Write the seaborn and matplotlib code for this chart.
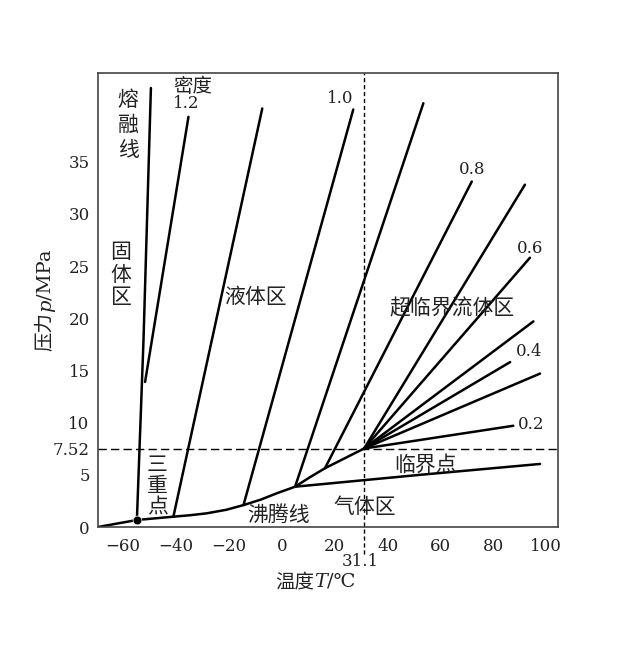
import numpy as np
import pandas as pd
import matplotlib
matplotlib.use("Agg")
import matplotlib.pyplot as plt
import seaborn as sns

sns.set_theme(style="white")
FAM = ["DejaVu Serif", "Noto Sans CJK SC", "DejaVu Sans"]
plt.rcParams["font.family"] = FAM
plt.rcParams["axes.unicode_minus"] = True

# ---- data (temperature in degC, pressure in MPa) ----
crit_T, crit_p = 31.1, 7.52
triple_T, triple_p = -54.8, 0.67

boil_T = [-69.5, -54.8, -41.0, -35.0, -28.4, -21.0, -14.5, -8.0, -1.9, 5.0, 10.5, 16.3, 23.5, 31.1]
boil_p = [0.0, 0.67, 0.99, 1.12, 1.31, 1.65, 2.1, 2.62, 3.23, 3.86, 4.75, 5.63, 6.55, 7.52]

melt_T = [-54.8, -52.3, -49.5]
melt_p = [0.67, 17.9, 42.06]

iso_names = ["d12", "c", "d10", "e", "d08", "g1", "d06", "g3", "d04", "g5", "d02", "h"]
iso_T = [
    [-51.7, -35.3],
    [-41.0, -7.4],
    [-14.5, 27.0],
    [5.0, 53.5],
    [16.3, 71.8],
    [31.1, 91.9],
    [31.1, 93.8],
    [31.1, 95.1],
    [31.1, 86.3],
    [31.1, 97.6],
    [31.1, 87.5],
    [5.0, 52.3, 97.6],
]
iso_p = [
    [13.9, 39.3],
    [0.99, 40.1],
    [2.1, 40.0],
    [3.86, 40.6],
    [5.63, 33.1],
    [7.52, 32.8],
    [7.52, 25.8],
    [7.52, 19.7],
    [7.52, 15.8],
    [7.52, 14.7],
    [7.52, 9.7],
    [3.86, 5.0, 6.04],
]

xticks = [-60, -40, -20, 0, 20, 40, 60, 80, 100]
yticks = [0, 5, 7.52, 10, 15, 20, 25, 30, 35]
yticklabels = ["0", "5", "7.52", "10", "15", "20", "25", "30", "35"]

# ---- build long-form table ----
rows = []
for t, p in zip(boil_T, boil_p):
    rows.append(("boil", t, p))
for t, p in zip(melt_T, melt_p):
    rows.append(("melt", t, p))
for name, ts, ps in zip(iso_names, iso_T, iso_p):
    for t, p in zip(ts, ps):
        rows.append((name, t, p))
df = pd.DataFrame(rows, columns=["line", "T", "p"])

fig = plt.figure(figsize=(6.44, 6.48), dpi=100)
ax = fig.add_axes([98 / 644, 1 - 527 / 648, 460 / 644, 454 / 648])

sns.lineplot(data=df, x="T", y="p", units="line", estimator=None, sort=False,
             color="black", linewidth=1.8, ax=ax, legend=False)

# triple point
sns.scatterplot(x=[triple_T], y=[triple_p], color="black", s=40, ax=ax,
                zorder=5, legend=False)

ax.set_xlim(-69.5, 104.4)
ax.set_ylim(0, 43.5)

# critical dashed guides
ax.plot([-69.5, 104.4], [crit_p, crit_p], color="black", lw=1.0,
        dashes=(6, 3), zorder=1)
ax.plot([crit_T, crit_T], [-2.6, 43.5], color="black", lw=1.0,
        dashes=(3, 2), clip_on=False, zorder=1)

for s in ax.spines.values():
    s.set_color("#444444")
    s.set_linewidth(1.2)

ax.set_xticks(xticks)
ax.set_yticks(yticks)
ax.set_yticklabels(yticklabels)
ax.tick_params(direction="in", length=5, width=1, labelsize=12, pad=6,
               colors="#222222")
ax.tick_params(axis="x", pad=8)
ax.set_xlabel("")
ax.set_ylabel("")

fig.text(360 / 644, 1 - 562 / 648, "31.1", ha="center", va="center",
         fontsize=12, family=FAM, color="#222222")

# axis titles built from pieces so the symbol can be italic
def pieced(parts, cx, cy, rotation=0, size=14):
    fig.canvas.draw()
    r = fig.canvas.get_renderer()
    objs = []
    for s, style in parts:
        t = fig.text(0, 0, s, fontsize=size, family=FAM, style=style,
                     color="#222222", rotation=rotation,
                     ha="left" if rotation == 0 else "center",
                     va="center" if rotation == 0 else "bottom")
        objs.append(t)
    widths = []
    for t in objs:
        bb = t.get_window_extent(r)
        widths.append(bb.width if rotation == 0 else bb.height)
    total = sum(widths)
    W, H = fig.bbox.width, fig.bbox.height
    if rotation == 0:
        x = cx - total / 2
        for t, w in zip(objs, widths):
            t.set_position((x / W, 1 - cy / H))
            x += w
    else:
        y = (H - cy) - total / 2
        for t, w in zip(objs, widths):
            t.set_position((cx / W, y / H))
            y += w

pieced([("温度", "normal"), ("T", "italic"), ("/℃", "normal")], 315, 582)
pieced([("压力", "normal"), ("p", "italic"), ("/MPa", "normal")], 46, 300, rotation=90)

def lab(t, p, s, size=15, ha="center", va="center"):
    ax.text(t, p, s, ha=ha, va=va, fontsize=size, family=FAM, color="#222222")

def vlab(t, p, s, step_pt, size=15):
    for i, ch in enumerate(s):
        ax.annotate(ch, (t, p), xytext=(0, -i * step_pt), textcoords="offset points",
                    ha="center", va="center", fontsize=size, family=FAM,
                    color="#222222")

vlab(-58.1, 40.9, "熔融线", 18.0)
vlab(-60.8, 26.3, "固体区", 16.2)
vlab(-47.0, 5.94, "三重点", 15.5)
lab(-33.8, 42.2, "密度", size=14)
lab(-36.3, 40.6, "1.2", size=12)
lab(22.0, 41.1, "1.0", size=12)
lab(71.9, 34.3, "0.8", size=12)
lab(94.0, 26.7, "0.6", size=12)
lab(93.3, 16.8, "0.4", size=12)
lab(89.3, 9.8, "0.2", size=12, ha="left")
lab(-10.1, 22.0, "液体区")
lab(64.4, 21.0, "超临界流体区")
lab(54.2, 5.9, "临界点")
lab(-1.4, 1.15, "沸腾线")
lab(31.5, 1.9, "气体区")

fig.savefig("out.png", dpi=100, facecolor="white")
